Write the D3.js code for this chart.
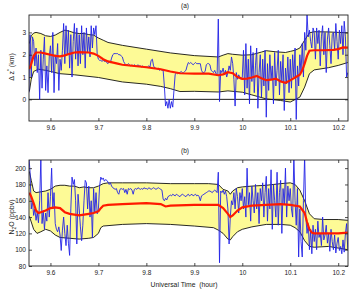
<!DOCTYPE html>
<html><head><meta charset="utf-8">
<script src="https://cdn.jsdelivr.net/npm/d3@7"></script>
<style>body{margin:0;background:#fff} text{font-family:"Liberation Sans",Arial,Helvetica,sans-serif}</style>
</head><body><svg id="c" width="352" height="289"></svg>
<script>
// ---------- data ----------
const xTicks = [9.6, 9.7, 9.8, 9.9, 10, 10.1, 10.2];
const xTickLabels = ["9.6", "9.7", "9.8", "9.9", "10", "10.1", "10.2"];
const aYTicks = [0, 1, 2, 3];
const bYTicks = [80, 100, 120, 140, 160, 180, 200];

const aUpperT = [9.556,9.56,9.565,9.57,9.58,9.59,9.6,9.61,9.62,9.63,9.64,9.65,9.66,9.67,9.68,9.69,9.7,9.71,9.72,9.75,9.8,9.85,9.9,9.95,9.96,9.97,9.98,10.0,10.02,10.04,10.05,10.07,10.09,10.1,10.11,10.12,10.13,10.14,10.15,10.18,10.2,10.22];
const aUpperV = [2.5,2.85,2.97,3.0,2.95,2.85,2.82,2.88,3.0,3.1,3.05,2.98,2.95,2.95,2.9,2.88,2.75,2.65,2.55,2.42,2.25,2.08,1.96,1.9,1.98,2.05,2.02,1.98,2.0,2.12,2.18,2.13,2.1,2.15,2.2,2.3,2.65,2.98,3.03,3.02,3.0,2.98];
const aLowerT = [9.556,9.56,9.565,9.575,9.59,9.6,9.62,9.65,9.7,9.75,9.8,9.83,9.85,9.87,9.9,9.95,9.97,10.0,10.02,10.05,10.08,10.1,10.12,10.13,10.14,10.15,10.18,10.2,10.22];
const aLowerV = [0.35,0.9,1.25,1.35,1.3,1.25,1.15,1.1,0.98,0.78,0.68,0.58,0.48,0.35,0.36,0.33,0.38,0.32,0.2,0.02,-0.05,-0.12,0.1,0.55,1.15,1.32,1.42,1.52,1.65];
const aMeanT = [9.556,9.56,9.565,9.57,9.58,9.59,9.6,9.61,9.62,9.63,9.64,9.65,9.66,9.68,9.69,9.7,9.71,9.72,9.74,9.75,9.8,9.83,9.85,9.87,9.9,9.93,9.95,9.96,9.97,9.98,9.99,10.0,10.01,10.02,10.03,10.04,10.05,10.06,10.07,10.08,10.09,10.1,10.11,10.12,10.125,10.13,10.135,10.14,10.15,10.17,10.19,10.2,10.21,10.22];
const aMeanV = [1.35,1.6,1.95,2.1,2.1,2.05,2.0,1.95,1.93,1.97,2.04,2.1,2.12,2.1,2.05,1.95,1.8,1.7,1.6,1.55,1.44,1.35,1.25,1.17,1.15,1.15,1.08,1.12,1.22,1.17,1.0,0.92,0.93,0.98,1.05,0.95,0.86,0.88,0.93,0.8,0.74,0.85,0.98,1.1,1.3,1.6,1.95,2.18,2.2,2.2,2.22,2.25,2.33,2.32];

const bUpperT = [9.556,9.56,9.565,9.57,9.58,9.59,9.6,9.61,9.62,9.63,9.64,9.65,9.66,9.67,9.68,9.69,9.7,9.71,9.72,9.75,9.8,9.85,9.9,9.93,9.95,9.96,9.97,9.975,9.98,9.99,10.0,10.02,10.05,10.08,10.1,10.11,10.12,10.13,10.14,10.15,10.17,10.2,10.22];
const bUpperV = [196,185,172,170,171,172,174,178,179,179,178,178,176,177,176,176,178,181,182,182,182,181,181,181,180,174,172,168,172,176,177,178,179,181,182,180,173,160,144,138,137,137,136];
const bLowerT = [9.556,9.56,9.565,9.572,9.58,9.59,9.6,9.61,9.62,9.64,9.66,9.68,9.69,9.7,9.705,9.71,9.75,9.8,9.85,9.9,9.94,9.95,9.96,9.97,9.975,9.98,9.99,10.0,10.02,10.05,10.08,10.1,10.11,10.12,10.13,10.14,10.15,10.18,10.2,10.22];
const bLowerV = [141,134,125,120,122,125,123,118,115,114,113,114,115,120,127,129,131,132,131,129,127,124,120,113,112,116,122,125,128,131,131,130,127,122,111,104,103,104,102,100];
const bMeanT = [9.556,9.56,9.565,9.57,9.575,9.58,9.59,9.6,9.61,9.62,9.63,9.64,9.65,9.66,9.67,9.68,9.69,9.7,9.705,9.71,9.72,9.75,9.8,9.83,9.84,9.85,9.9,9.95,9.96,9.97,9.975,9.98,9.99,10.0,10.02,10.05,10.08,10.1,10.12,10.13,10.135,10.14,10.145,10.15,10.2,10.22];
const bMeanV = [170,165,157,148,145,146,148,151,152,151,146,144,143,142,143,144,145,147,151,154,155,156,157,156,153,154,155,155,151,144,140,142,148,152,154,155,156,155,153,145,134,125,121,120,120,121];

// raw traces sampled every 0.0025 h starting at 9.555 h
const rawStart = 9.555, rawStep = 0.0025;
const aRaw = [
0.3,2.9,1.0,2.8,2.6,1.5,2.3,1.2,2.0,0.0,2.2,0.5,1.8,2.8,0.4,1.5,0.3,1.9,
2.4,1.2,3.0,0.3,2.0,1.6,2.5,0.4,1.8,1.3,2.2,3.4,1.6,3.3,2.0,3.1,1.4,2.9,1.0,2.6,
3.4,1.8,3.2,1.5,2.9,1.6,3.3,2.0,3.0,1.4,3.2,2.1,2.8,1.9,3.3,2.3,3.2,2.9,3.3,2.0,
1.8,1.75,1.75,1.7,1.75,1.7,1.7,1.65,1.6,1.7,1.65,1.85,2.0,2.05,2.05,2.05,2.05,2.0,2.0,1.95,
1.9,1.7,1.6,1.55,1.55,1.6,1.55,1.5,1.55,1.5,1.55,1.5,1.5,1.55,1.5,1.5,1.45,1.5,1.45,1.45,
1.45,1.45,1.5,1.45,1.75,1.8,1.5,1.4,1.4,1.35,1.4,1.3,1.35,1.3,1.3,0.6,-0.3,-0.1,-0.4,0.0,
-0.4,-0.1,-0.35,0.4,1.1,1.2,1.15,1.2,1.2,1.25,1.2,1.2,1.25,1.3,1.5,1.65,1.6,1.65,1.6,1.55,
1.6,1.65,1.6,1.6,1.6,1.6,1.3,1.2,1.2,1.25,1.55,1.6,1.6,1.55,1.3,1.25,1.2,1.3,1.15,1.1,
3.6,-0.1,1.3,1.2,1.4,1.1,1.3,1.0,1.2,1.5,1.3,1.9,1.6,0.9,-0.3,1.2,0.9,1.1,1.0,0.9,
1.0,2.2,0.2,2.5,0.5,1.8,-0.2,2.4,0.8,2.1,0.3,1.5,2.3,-0.4,1.2,2.0,0.1,1.8,0.6,2.2,
-0.8,1.6,0.4,2.0,0.9,1.5,-0.2,2.1,0.6,1.3,2.2,0.2,1.7,0.8,2.0,-0.5,1.4,0.7,1.9,0.3,
1.8,0.5,2.0,1.0,2.3,-0.9,1.5,0.6,2.0,1.2,2.5,1.0,3.0,2.2,3.8,2.8,3.1,2.6,2.3,3.2,
3.0,1.8,3.2,2.5,3.1,1.5,2.8,3.3,2.0,3.0,1.2,2.7,3.2,2.4,1.6,2.9,3.0,2.2,3.4,2.6,1.8,3.1,2.5,3.3,2.0,3.5,2.8,1.0,1.2];
const bRaw = [
215,195,150,160,142,150,136,146,133,160,212,132,148,125,145,135,170,140,
165,200,150,170,132,125,122,128,118,99,124,140,120,105,130,108,93,150,189,180,
186,160,107,168,150,128,111,130,160,185,182,150,178,140,160,115,175,145,170,144,
150,178,189,186,188,184,186,185,183,180,182,178,176,175,174,175,170,168,174,175,
174,175,170,174,168,175,174,175,173,168,174,175,174,176,175,174,175,174,176,175,
175,174,176,175,174,175,176,175,174,175,176,175,174,173,162,160,163,161,165,166,
167,166,168,167,166,168,167,166,165,167,168,167,166,165,167,168,166,167,168,166,
167,168,166,167,165,160,166,167,168,169,170,171,172,172,171,170,172,173,172,170,
195,84,172,170,173,168,172,165,150,107,140,160,155,170,150,175,165,145,170,160,
175,150,165,140,200,155,170,135,178,160,145,180,150,170,132,175,160,182,140,170,
190,135,175,150,198,125,180,160,140,195,130,170,185,120,175,155,200,140,178,160,
175,150,140,215,160,130,175,91,150,110,91,160,215,140,120,132,100,125,95,130,
110,125,100,135,115,120,105,140,112,118,130,108,120,98,125,110,100,118,96,108,115,99,104,95,112,97,120,132,100];

// ---------- drawing ----------
const svg = d3.select("#c");
const L = 29, R = 348;
const x = d3.scaleLinear().domain([9.5553, 10.2204]).range([L, R]);

const panels = [
  {id:"a", title:"(a)", top:15, bottom:121, dom:[-0.97, 3.78], yTicks:aYTicks, zero:true,
   upT:aUpperT, upV:aUpperV, loT:aLowerT, loV:aLowerV, mT:aMeanT, mV:aMeanV, raw:aRaw},
  {id:"b", title:"(b)", top:160, bottom:266, dom:[80, 210], yTicks:bYTicks, zero:false,
   upT:bUpperT, upV:bUpperV, loT:bLowerT, loV:bLowerV, mT:bMeanT, mV:bMeanV, raw:bRaw}
];

panels.forEach(p => {
  const y = d3.scaleLinear().domain(p.dom).range([p.bottom, p.top]);
  const g = svg.append("g");
  svg.append("clipPath").attr("id", "clip" + p.id)
    .append("rect").attr("x", L).attr("y", p.top).attr("width", R - L).attr("height", p.bottom - p.top);
  const plot = g.append("g").attr("clip-path", `url(#clip${p.id})`);
  const up = p.upT.map((t, i) => [t, p.upV[i]]);
  const lo = p.loT.map((t, i) => [t, p.loV[i]]);
  const line = d3.line().x(d => x(d[0])).y(d => y(d[1]));
  plot.append("path").attr("d", line(up.concat(lo.slice().reverse())) + "Z")
    .attr("fill", "#fdfa96").attr("stroke", "none");
  if (p.zero) {
    plot.append("line").attr("x1", L).attr("x2", R).attr("y1", y(0)).attr("y2", y(0))
      .attr("stroke", "#000").attr("stroke-width", 0.9);
  }
  plot.append("path").attr("d", line(up)).attr("fill", "none").attr("stroke", "#111").attr("stroke-width", 0.9);
  plot.append("path").attr("d", line(lo)).attr("fill", "none").attr("stroke", "#111").attr("stroke-width", 0.9);
  const raw = p.raw.map((v, i) => [rawStart + i * rawStep, v]);
  plot.append("path").attr("d", line(raw)).attr("fill", "none").attr("stroke", "#2323e6").attr("stroke-width", 0.9);
  const mean = p.mT.map((t, i) => [t, p.mV[i]]);
  plot.append("path").attr("d", line(mean)).attr("fill", "none").attr("stroke", "#ff1a00").attr("stroke-width", 2.2);

  // axes (inward ticks, box on)
  const fmt = (d) => xTickLabels[xTicks.indexOf(d)];
  const ax = (a) => a.tickSizeInner(-3).tickSizeOuter(0);
  const bottom = g.append("g").attr("transform", `translate(0,${p.bottom})`)
    .call(ax(d3.axisBottom(x).tickValues(xTicks).tickFormat(fmt).tickPadding(4)));
  const topA = g.append("g").attr("transform", `translate(0,${p.top})`)
    .call(ax(d3.axisTop(x).tickValues(xTicks).tickFormat("")));
  const left = g.append("g").attr("transform", `translate(${L},0)`)
    .call(ax(d3.axisLeft(y).tickValues(p.yTicks).tickFormat(d3.format("d")).tickPadding(3)));
  const right = g.append("g").attr("transform", `translate(${R},0)`)
    .call(ax(d3.axisRight(y).tickValues(p.yTicks).tickFormat("")));
  [bottom, topA, left, right].forEach(s => {
    s.select(".domain").remove();
    s.selectAll("line").attr("stroke", "#222").attr("stroke-width", 0.8);
    s.selectAll("text").attr("fill", "#222").style("font-size", "6.5px").style("font-family", '"Liberation Sans",Arial,sans-serif');
  });
  g.append("rect").attr("x", L).attr("y", p.top).attr("width", R - L).attr("height", p.bottom - p.top)
    .attr("fill", "none").attr("stroke", "#222").attr("stroke-width", 0.9);
  g.append("text").attr("x", 185).attr("y", p.top - 7).attr("text-anchor", "middle")
    .style("font-size", "6.5px").attr("fill", "#222").text(p.title);
});

// y-axis labels
const yl1 = svg.append("text").attr("transform", "translate(14,67) rotate(-90)")
  .attr("text-anchor", "middle").style("font-size", "7px").attr("fill", "#222");
yl1.append("tspan").text("\u0394 z");
yl1.append("tspan").attr("dy", -3).style("font-size", "5px").text("*");
yl1.append("tspan").attr("dy", 3).text("  (km)");
const yl2 = svg.append("text").attr("transform", "translate(14,217) rotate(-90)")
  .attr("text-anchor", "middle").style("font-size", "7px").attr("fill", "#222");
yl2.append("tspan").text("N");
yl2.append("tspan").attr("dy", 2).style("font-size", "5px").text("2");
yl2.append("tspan").attr("dy", -2).text("O  (ppbv)");
svg.append("text").attr("x", 184).attr("y", 287).attr("text-anchor", "middle")
  .style("font-size", "6.8px").attr("fill", "#222").attr("xml:space", "preserve").text("Universal Time  (hour)");
</script></body></html>
